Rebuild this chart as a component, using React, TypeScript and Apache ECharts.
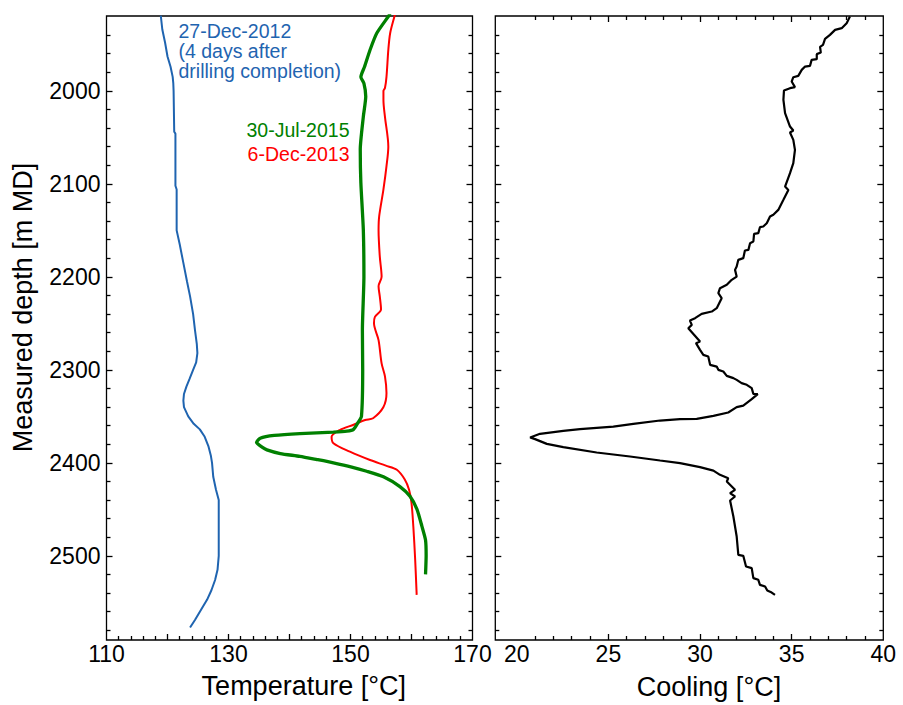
import React, { useEffect, useRef } from "react";
import * as echarts from "echarts";

// Tick labels
const DEPTH_LABELS = [2000, 2100, 2200, 2300, 2400, 2500];
const TEMP_LABELS = [110, 130, 150, 170];
const COOL_LABELS = [20, 25, 30, 35, 40];

// Temperature logs: [temperature °C, measured depth m]
const PROFILE_2012: [number, number][] = [
  [118.9, 1919], [119.15, 1934], [119.6, 1948], [120.0, 1963], [120.5, 1974],
  [120.85, 1985], [120.95, 1992], [121.0, 2000], [121.1, 2044], [121.3, 2046],
  [121.3, 2102], [121.5, 2106], [121.5, 2150], [122.0, 2165], [122.6, 2185],
  [123.2, 2205], [123.7, 2221], [124.2, 2240], [124.5, 2257], [124.8, 2272],
  [124.9, 2282], [124.7, 2292], [124.2, 2300], [123.6, 2310], [123.1, 2318],
  [122.7, 2326], [122.6, 2333], [122.7, 2340], [123.4, 2350], [124.3, 2358],
  [125.3, 2364], [126.1, 2372], [126.7, 2382], [127.1, 2392], [127.3, 2400],
  [127.5, 2415], [127.95, 2429], [128.4, 2440], [128.4, 2470], [128.4, 2500],
  [128.2, 2515], [127.8, 2526], [127.2, 2537], [126.5, 2547], [125.5, 2558],
  [124.5, 2569], [123.7, 2577],
];

const PROFILE_2013: [number, number][] = [
  [157.4, 1915], [157.2, 1920], [156.5, 1938], [156.2, 1956], [155.9, 1985],
  [155.65, 1997], [155.4, 2000], [155.4, 2010], [155.65, 2028], [156.2, 2060],
  [155.9, 2081], [155.4, 2106], [154.7, 2135], [154.6, 2150], [154.8, 2178],
  [155.1, 2200], [154.6, 2210], [154.8, 2221], [155.0, 2235], [154.0, 2243],
  [153.85, 2250], [154.6, 2268], [155.1, 2293], [155.65, 2307], [155.9, 2325],
  [155.4, 2340], [153.7, 2352], [152.4, 2354], [150.5, 2359], [148.3, 2364.5],
  [146.9, 2372], [147.2, 2379], [149.9, 2388], [153.2, 2397], [155.8, 2403],
  [157.6, 2407.5], [158.9, 2418], [159.6, 2429], [160.0, 2443], [160.3, 2468.5],
  [160.6, 2504], [160.85, 2542],
];

const PROFILE_2015: [number, number][] = [
  [156.5, 1917], [156.2, 1920], [154.3, 1938], [153.2, 1956], [152.3, 1974],
  [151.7, 1985], [152.2, 1992], [152.5, 2006], [152.1, 2028], [151.6, 2063],
  [151.7, 2099], [152.1, 2149], [152.2, 2200], [151.95, 2257], [152.0, 2300],
  [151.8, 2350], [151.3, 2356], [150.5, 2364], [149.4, 2366], [147.2, 2367],
  [141.7, 2368.5], [137.5, 2370.5], [135.2, 2373.5], [134.6, 2378], [135.5, 2383],
  [136.3, 2386], [138.5, 2390], [141.7, 2393], [144.5, 2396.5], [147.2, 2400],
  [150.2, 2404.5], [152.65, 2409], [155.4, 2415], [158.1, 2425.5], [159.75, 2436],
  [160.9, 2450], [161.7, 2468], [162.3, 2483], [162.4, 2500], [162.3, 2520],
];

// Cooling: [°C, measured depth m]
const COOLING: [number, number][] = [
  [38.18, 1920.1], [38.0, 1927.2], [37.73, 1932.6], [37.37, 1934.4], [37.09, 1939.8],
  [36.82, 1944.1], [36.71, 1950.5], [36.55, 1952.7], [36.59, 1958.8], [36.37, 1960.5],
  [36.37, 1965.9], [36.09, 1966.7], [36.0, 1973.1], [35.73, 1973.9], [35.55, 1977.4],
  [35.36, 1983.9], [35.09, 1985.3], [35.0, 1990], [35.18, 1996], [34.91, 1997.1],
  [34.58, 1999.7], [34.55, 2009.7], [34.64, 2024], [34.91, 2038.4], [35.09, 2042.7],
  [34.91, 2044.8], [35.09, 2052.7], [35.18, 2063.4], [35.09, 2077.7], [34.91, 2088.5],
  [34.64, 2102.9], [34.82, 2106.5], [34.55, 2117.2], [34.27, 2128], [34.0, 2133.3],
  [33.82, 2135.2], [33.64, 2142.3], [33.45, 2145.9], [33.27, 2146.6], [33.18, 2153],
  [32.95, 2153.8], [32.91, 2162], [32.73, 2163.8], [32.64, 2171], [32.45, 2171.7],
  [32.36, 2179.9], [32.09, 2181.7], [32.0, 2188.9], [31.91, 2192.5], [32.0, 2199.7],
  [31.73, 2203.2], [31.46, 2208.6], [31.09, 2212.2], [31.0, 2217.5], [31.18, 2222.9],
  [30.91, 2233.7], [30.64, 2237.3], [30.09, 2239.8], [29.73, 2244.4], [29.45, 2247],
  [29.55, 2251.6], [29.36, 2255.2], [30.0, 2269.6], [29.78, 2271.3], [30.0, 2278.5],
  [30.18, 2283.9], [30.45, 2285.7], [30.55, 2294.6], [30.91, 2296.5], [31.0, 2300],
  [31.27, 2301.8], [31.46, 2306.5], [31.82, 2308.9], [32.0, 2310.8], [32.27, 2314.3],
  [32.55, 2316.1], [32.82, 2319.7], [32.91, 2325.8], [33.15, 2326.1], [32.82, 2331.5],
  [32.36, 2338.4], [32.0, 2340.1], [31.54, 2345.9], [30.73, 2349.5], [29.82, 2352.7],
  [28.91, 2353], [27.82, 2354.5], [26.36, 2358.1], [25.27, 2361], [23.45, 2363.8],
  [22.54, 2365.6], [21.27, 2368.8], [20.73, 2372.8], [21.0, 2374.5], [21.64, 2379.6],
  [22.54, 2383.1], [24.36, 2388.9], [26.18, 2393.2], [27.82, 2397.5], [28.91, 2400.3],
  [30.0, 2404.6], [30.73, 2408.3], [31.09, 2412.9], [31.54, 2416.5], [31.46, 2420.1],
  [31.91, 2429], [31.64, 2432.6], [31.91, 2436.2], [31.64, 2440.5], [31.82, 2457.7],
  [32.0, 2479.2], [32.09, 2498.9], [32.36, 2500], [32.51, 2511.5], [32.82, 2513.2],
  [32.91, 2524], [33.18, 2525.8], [33.27, 2531.2], [33.55, 2533], [33.67, 2537.3],
  [33.91, 2539.5], [34.09, 2542],
];

const BLUE = "#1f64b0";
const GREEN = "#008000";
const RED = "#ff0000";
const INK = "#000000";
const FONT = "'Liberation Sans', Arial, Helvetica, sans-serif";

const DEPTH_MIN = 1919.5;
const DEPTH_MAX = 2590.5;

function steps(from: number, to: number, step: number, skipEvery: number): number[] {
  const out: number[] = [];
  for (let v = from; v <= to + 1e-9; v += step) {
    const r = Math.round(v * 1000) / 1000;
    if (skipEvery > 0 && Math.abs(r / skipEvery - Math.round(r / skipEvery)) < 1e-6) continue;
    out.push(r);
  }
  return out;
}

const DEPTH_MAJOR = DEPTH_LABELS;
const DEPTH_MINOR = steps(1940, 2580, 20, 100);
const TEMP_MAJOR = [120, 130, 140, 150, 160];
const TEMP_MINOR = steps(112, 168, 2, 10);
const COOL_MAJOR = [25, 30, 35];
const COOL_MINOR = steps(21, 39, 1, 5);

function tickAxis(
  gridIndex: number,
  position: string,
  min: number,
  max: number,
  values: number[],
  length: number,
  inverse = false,
  labels?: number[],
  labelMargin = 6
) {
  return {
    type: "value",
    gridIndex,
    position,
    min,
    max,
    inverse,
    axisLine: { show: false, onZero: false },
    axisTick: {
      show: true,
      inside: true,
      length,
      customValues: values,
      lineStyle: { color: INK, width: 1.3 },
    },
    axisLabel: labels
      ? {
          show: true,
          customValues: labels,
          showMinLabel: true,
          showMaxLabel: true,
          hideOverlap: false,
          color: INK,
          fontSize: 23,
          fontFamily: FONT,
          margin: labelMargin,
          formatter: (v: number) => String(v),
        }
      : { show: false },
    splitLine: { show: false },
  };
}

function label(text: string, x: number, y: number, color: string, size: number, align: string, rotation = 0) {
  return {
    type: "text",
    x,
    y,
    rotation,
    silent: true,
    style: {
      text,
      fill: color,
      font: `${size}px ${FONT}`,
      align,
      verticalAlign: "middle",
    },
  };
}

export default function App() {
  const ref = useRef<HTMLDivElement>(null);

  useEffect(() => {
    if (!ref.current) return;
    const chart = echarts.init(ref.current, undefined, { renderer: "svg" });

    const gridStyle = { show: true, borderColor: INK, borderWidth: 1.3, backgroundColor: "transparent" };

    const option = {
      animation: false,
      backgroundColor: "#ffffff",
      grid: [
        { left: 106.5, top: 16, width: 366, height: 624, ...gridStyle },
        { left: 495.3, top: 16, width: 388, height: 624, ...gridStyle },
      ],
      xAxis: [
        tickAxis(0, "bottom", 110, 170, TEMP_MAJOR, 6, false, TEMP_LABELS, 2),
        tickAxis(0, "bottom", 110, 170, TEMP_MINOR, 4),
        tickAxis(1, "bottom", 18.83, 40, COOL_MAJOR, 6, false, COOL_LABELS, 2),
        tickAxis(1, "bottom", 18.83, 40, COOL_MINOR, 4),
        tickAxis(1, "top", 18.83, 40, COOL_MAJOR, 6),
        tickAxis(1, "top", 18.83, 40, COOL_MINOR, 4),
      ],
      yAxis: [
        tickAxis(0, "left", DEPTH_MIN, DEPTH_MAX, DEPTH_MAJOR, 6, true, DEPTH_LABELS, 6),
        tickAxis(0, "left", DEPTH_MIN, DEPTH_MAX, DEPTH_MINOR, 4, true),
        tickAxis(0, "right", DEPTH_MIN, DEPTH_MAX, DEPTH_MAJOR, 6, true),
        tickAxis(0, "right", DEPTH_MIN, DEPTH_MAX, DEPTH_MINOR, 4, true),
        tickAxis(1, "left", DEPTH_MIN, DEPTH_MAX, DEPTH_MAJOR, 6, true),
        tickAxis(1, "left", DEPTH_MIN, DEPTH_MAX, DEPTH_MINOR, 4, true),
        tickAxis(1, "right", DEPTH_MIN, DEPTH_MAX, DEPTH_MAJOR, 6, true),
        tickAxis(1, "right", DEPTH_MIN, DEPTH_MAX, DEPTH_MINOR, 4, true),
      ],
      series: [
        {
          name: "27-Dec-2012",
          type: "line",
          xAxisIndex: 0,
          yAxisIndex: 0,
          data: PROFILE_2012,
          symbol: "none",
          lineStyle: { color: BLUE, width: 2 },
        },
        {
          name: "6-Dec-2013",
          type: "line",
          xAxisIndex: 0,
          yAxisIndex: 0,
          data: PROFILE_2013,
          symbol: "none",
          smooth: 0.3,
          lineStyle: { color: RED, width: 2 },
        },
        {
          name: "30-Jul-2015",
          type: "line",
          xAxisIndex: 0,
          yAxisIndex: 0,
          data: PROFILE_2015,
          symbol: "none",
          smooth: 0.2,
          lineStyle: { color: GREEN, width: 3.3 },
        },
        {
          name: "Cooling",
          type: "line",
          xAxisIndex: 2,
          yAxisIndex: 4,
          data: COOLING,
          symbol: "none",
          lineStyle: { color: INK, width: 2.2 },
        },
      ],
      graphic: [
        label("27-Dec-2012", 178.5, 30.5, BLUE, 19.5, "left"),
        label("(4 days after", 178.5, 50.5, BLUE, 19.5, "left"),
        label("drilling completion)", 178.5, 70.5, BLUE, 19.5, "left"),
        label("30-Jul-2015", 349.5, 130, GREEN, 19.5, "right"),
        label("6-Dec-2013", 349.5, 154, RED, 19.5, "right"),
        label("Temperature [°C]", 303.8, 685.5, INK, 27, "center"),
        label("Cooling [°C]", 709, 687, INK, 27, "center"),
        label("Measured depth [m MD]", 23.2, 307.5, INK, 27, "center", Math.PI / 2),
      ],
    };

    chart.setOption(option as any);
    return () => chart.dispose();
  }, []);

  return (
    <div
      ref={ref}
      style={{ position: "fixed", left: 0, top: 0, width: 903, height: 705, background: "#ffffff" }}
    />
  );
}
